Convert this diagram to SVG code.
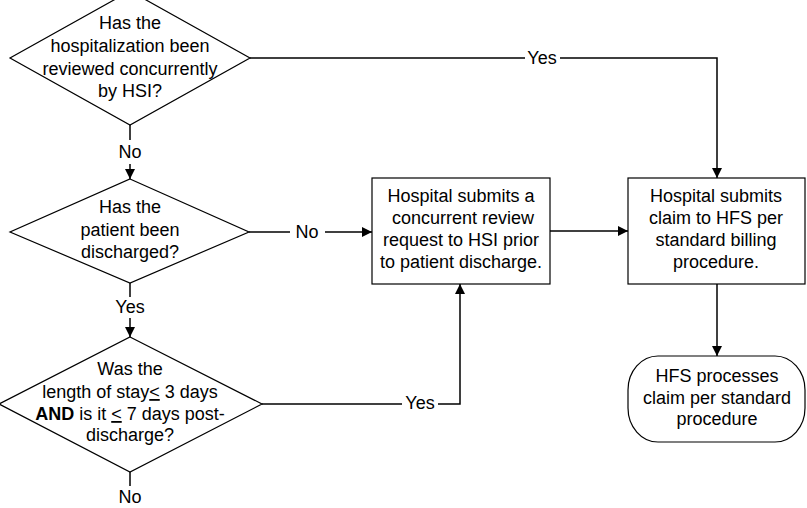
<svg xmlns="http://www.w3.org/2000/svg" width="807" height="508" viewBox="0 0 807 508">
<style>
.shape{fill:#fff;stroke:#000;stroke-width:1.2}
.conn{fill:none;stroke:#000;stroke-width:1.5}
text{font-family:"Liberation Sans",Arial,sans-serif;font-size:18px;fill:#000;text-anchor:middle}
.lbl{font-size:18px}
</style>
<defs>
<marker id="arr" markerUnits="userSpaceOnUse" markerWidth="10" markerHeight="10" viewBox="0 0 10 10" refX="10" refY="5" orient="auto">
<path d="M0,0 L10,5 L0,10 z" fill="#000"/>
</marker>
</defs>
<rect width="807" height="508" fill="#fff"/>
<g id="connectors">
<path class="conn" d="M250,58 H525 M560,58 H717 V178" marker-end="url(#arr)"/>
<path class="conn" d="M130,125 V140"/>
<path class="conn" d="M130,164 V179" marker-end="url(#arr)"/>
<path class="conn" d="M249,232 H290"/>
<path class="conn" d="M325,232 H372" marker-end="url(#arr)"/>
<path class="conn" d="M130,283 V297"/>
<path class="conn" d="M130,318 V337" marker-end="url(#arr)"/>
<path class="conn" d="M130,472 V486"/>
<path class="conn" d="M262,404 H402"/>
<path class="conn" d="M438,404 H460 V284" marker-end="url(#arr)"/>
<path class="conn" d="M550,231 H628" marker-end="url(#arr)"/>
<path class="conn" d="M717,284 V356" marker-end="url(#arr)"/>
<text class="lbl" x="542" y="64">Yes</text>
<text class="lbl" x="130" y="158">No</text>
<text class="lbl" x="307" y="238">No</text>
<text class="lbl" x="130" y="313">Yes</text>
<text class="lbl" x="420" y="409">Yes</text>
<text class="lbl" x="130" y="503">No</text>
</g>
<g id="d1">
<polygon class="shape" points="130,-9 250,58 130,125 10,58"/>
<text x="130" y="29">Has the</text>
<text x="130" y="52">hospitalization been</text>
<text x="130" y="75">reviewed concurrently</text>
<text x="130" y="97">by HSI?</text>
</g>
<g id="d2">
<polygon class="shape" points="130,179 249,232 130,283 10,232"/>
<text x="130" y="213">Has the</text>
<text x="130" y="236">patient been</text>
<text x="130" y="258">discharged?</text>
</g>
<g id="d3">
<polygon class="shape" points="130,337 262,404 130,472 -1,404"/>
<text x="130" y="375">Was the</text>
<text x="130" y="398">length of stay<tspan text-decoration="underline">&lt;</tspan> 3 days</text>
<text x="130" y="420"><tspan font-weight="bold">AND</tspan> is it <tspan text-decoration="underline">&lt;</tspan> 7 days post-</text>
<text x="130" y="441">discharge?</text>
</g>
<g id="b1">
<rect class="shape" x="372" y="178" width="178" height="106"/>
<text x="461" y="202">Hospital submits a</text>
<text x="463" y="224">concurrent review</text>
<text x="461" y="246">request to HSI prior</text>
<text x="461" y="268">to patient discharge.</text>
</g>
<g id="b2">
<rect class="shape" x="628" y="178" width="177" height="106"/>
<text x="716" y="202">Hospital submits</text>
<text x="716" y="224">claim to HFS per</text>
<text x="716" y="246">standard billing</text>
<text x="716" y="268">procedure.</text>
</g>
<g id="t1">
<rect class="shape" x="628" y="356" width="177" height="86" rx="30" ry="34"/>
<text x="717" y="382">HFS processes</text>
<text x="717" y="404">claim per standard</text>
<text x="717" y="425">procedure</text>
</g>
</svg>
